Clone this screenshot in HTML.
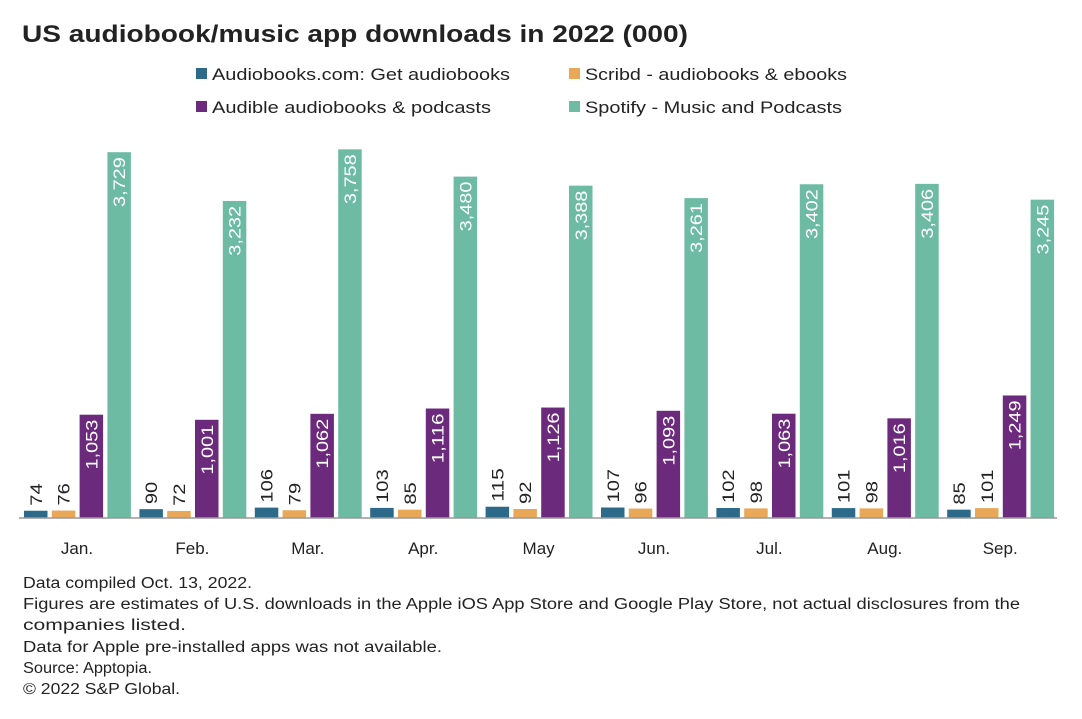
<!DOCTYPE html>
<html><head><meta charset="utf-8"><style>
body{margin:0;background:#fff;width:1082px;height:714px;overflow:hidden;font-family:"Liberation Sans",sans-serif;}
svg text{font-family:"Liberation Sans",sans-serif;}
</style></head><body>
<svg id="chart" width="1082" height="714" xmlns="http://www.w3.org/2000/svg">
<text x="22" y="42" font-size="24" font-weight="bold" fill="#222" textLength="666" lengthAdjust="spacingAndGlyphs">US audiobook/music app downloads in 2022 (000)</text>
<g font-size="17" fill="#222">
<g><rect x="196" y="68" width="11" height="11" fill="#2d6a8a"/><text x="212" y="80" textLength="298" lengthAdjust="spacingAndGlyphs">Audiobooks.com: Get audiobooks</text></g>
<g><rect x="569" y="68" width="11" height="11" fill="#e8a857"/><text x="585" y="80" textLength="262" lengthAdjust="spacingAndGlyphs">Scribd - audiobooks &amp; ebooks</text></g>
<g><rect x="196" y="101" width="11" height="11" fill="#6b2a7b"/><text x="212" y="113" textLength="279" lengthAdjust="spacingAndGlyphs">Audible audiobooks &amp; podcasts</text></g>
<g><rect x="569" y="101" width="11" height="11" fill="#6dbba3"/><text x="585" y="113" textLength="257" lengthAdjust="spacingAndGlyphs">Spotify - Music and Podcasts</text></g>
</g>
<g id="bars"></g>
<line x1="19" y1="518" x2="1057" y2="518" stroke="#999" stroke-width="1.5"/>
<g id="xlabels"></g>
<g font-size="15.5" fill="#222">
<text x="23" y="588" textLength="229" lengthAdjust="spacingAndGlyphs">Data compiled Oct. 13, 2022.</text>
<text x="23" y="609" textLength="997" lengthAdjust="spacingAndGlyphs">Figures are estimates of U.S. downloads in the Apple iOS App Store and Google Play Store, not actual disclosures from the</text>
<text x="23" y="630" textLength="163" lengthAdjust="spacingAndGlyphs">companies listed.</text>
<text x="23" y="652" textLength="419" lengthAdjust="spacingAndGlyphs">Data for Apple pre-installed apps was not available.</text>
<text x="23" y="673" textLength="129" lengthAdjust="spacingAndGlyphs">Source: Apptopia.</text>
<text x="23" y="694" textLength="157" lengthAdjust="spacingAndGlyphs">© 2022 S&amp;P Global.</text>
</g>
</svg>
<script>
const months=["Jan.","Feb.","Mar.","Apr.","May","Jun.","Jul.","Aug.","Sep."];
const audiobooks=[74,90,106,103,115,107,102,101,85];
const scribd=[76,72,79,85,92,96,98,98,101];
const audible=[1053,1001,1062,1116,1126,1093,1063,1016,1249];
const spotify=[3729,3232,3758,3480,3388,3261,3402,3406,3245];
const series=[audiobooks,scribd,audible,spotify];
const colors=["#2d6a8a","#e8a857","#6b2a7b","#6dbba3"];
const names=["audiobooks","scribd","audible","spotify"];
const base=518, scale=0.0981;
const y=v=>base-v*scale;
const groupX=i=>77+i*115.4;
const NS="http://www.w3.org/2000/svg";
const g=document.getElementById('bars');
const xl=document.getElementById('xlabels');
months.forEach((m,i)=>{
  const cx=groupX(i);
  series.forEach((s,k)=>{
    const v=s[i];
    const x=cx-53+k*27.8;
    const r=document.createElementNS(NS,'rect');
    
    
    r.setAttribute('x',x);r.setAttribute('y',y(v));
    r.setAttribute('width',23.5);r.setAttribute('height',base-y(v));
    r.setAttribute('fill',colors[k]);
    g.appendChild(r);
    const t=document.createElementNS(NS,'text');
    
    
    t.setAttribute('font-size','17');
    const str=v.toLocaleString('en-US');
    const digits=str.replace(/,/g,'').length, commas=str.length-digits;
    t.setAttribute('textLength',digits*11.2+commas*5);
    t.setAttribute('lengthAdjust','spacingAndGlyphs');
    const lx=x+11.75+6;
    const inside=v>500;
    let ly;
    if(inside){ly=y(v)+5;t.setAttribute('fill','#fff');t.setAttribute('text-anchor','end');}
    else{ly=y(v)-5;t.setAttribute('fill','#222');t.setAttribute('text-anchor','start');}
    t.setAttribute('transform','translate('+lx+','+ly+') rotate(-90)');
    t.textContent=str;
    g.appendChild(t);
  });
  const ml=document.createElementNS(NS,'text');
  
  
  ml.setAttribute('x',cx);ml.setAttribute('y',554);
  ml.setAttribute('text-anchor','middle');ml.setAttribute('font-size','17');ml.setAttribute('fill','#222');
  ml.textContent=m;
  xl.appendChild(ml);
});
</script>
</body></html>
